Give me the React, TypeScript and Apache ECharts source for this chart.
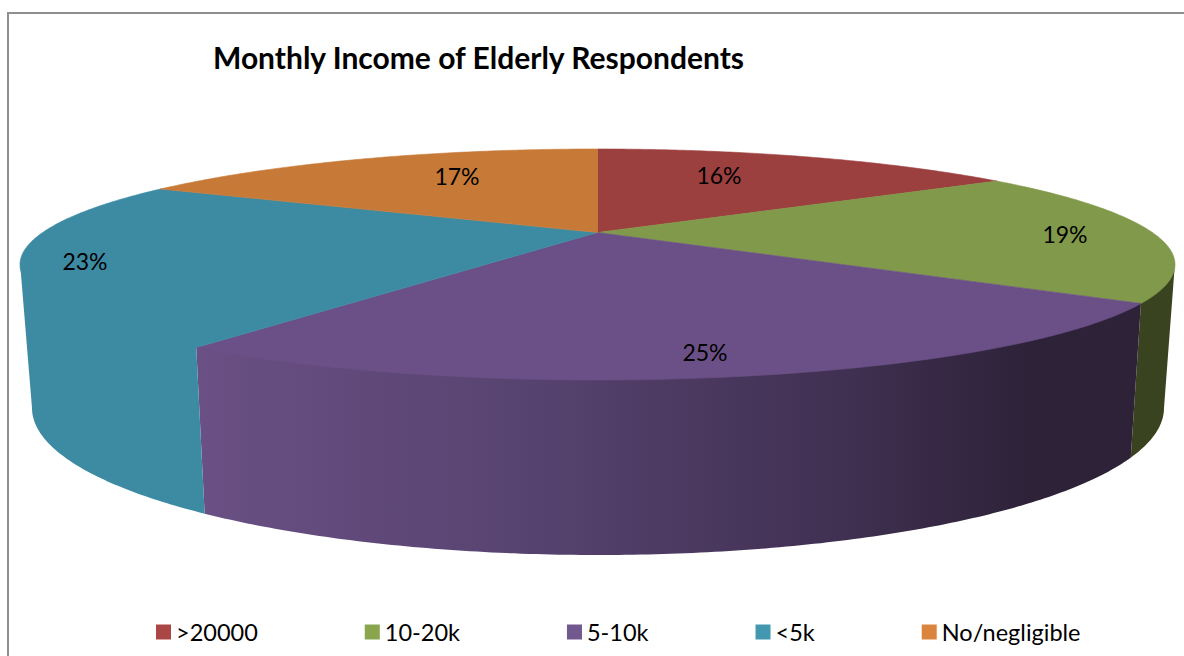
import React, { useEffect, useRef } from "react";
import * as echarts from "echarts";

const titleText = "Monthly Income of Elderly Respondents";
const categories = [">20000", "10-20k", "5-10k", "<5k", "No/negligible"];
const shares = [15.6, 18.9, 24.9, 23.2, 17.4];

const legendColors = ["#AA4644", "#89A54E", "#71588F", "#4298AF", "#DB843D"];
const topColors = ["#9C3F3F", "#81994A", "#6B5087", "#3D8BA3", "#C77A38"];
const sideStops: [number, string][][] = [
  [[0, "#6b2a2a"], [1, "#6b2a2a"]],
  [[0, "#3A431F"], [1, "#3A431F"]],
  [[0, "#6A5084"], [0.35, "#574370"], [0.7, "#3F2F50"], [0.88, "#2E2239"], [1, "#2E2239"]],
  [[0, "#3D8BA3"], [1, "#3D8BA3"]],
  [[0, "#C77A38"], [1, "#C77A38"]],
];
const labelAnchors = [
  [719, 175],
  [1065, 234],
  [705, 352],
  [85, 261],
  [457, 176],
];

// perspective disc: the apex of the pie sits above the centre of the rim ellipse
const TOP = { cx: 597.5, cy: 264.5, rx: 577.5, ry: 115.5 };
const BOTTOM = { cx: 598, cy: 408, rx: 566, ry: 147 };
const K = 0.277;

function disc(theta: number) {
  const u = Math.sin(theta);
  const v = Math.cos(theta);
  const d = 1 + K * v;
  return { X: (u * Math.sqrt(1 - K * K)) / d, Y: (v + K) / d };
}
function rim(theta: number, e: typeof TOP): number[] {
  const p = disc(theta);
  return [e.cx + e.rx * p.X, e.cy - e.ry * p.Y];
}
function arcAngles(a: number, b: number): number[] {
  const n = Math.max(2, Math.ceil((b - a) / 0.01));
  const out: number[] = [];
  for (let i = 0; i <= n; i++) out.push(a + ((b - a) * i) / n);
  return out;
}

const total = shares.reduce((s, v) => s + v, 0);
const silhouetteR = Math.acos(-K);
const silhouetteL = 2 * Math.PI - silhouetteR;

function sliceRender(index: number) {
  return (_params: unknown, api: any) => {
    const before = shares.slice(0, index).reduce((s, v) => s + v, 0);
    const a0 = (before / total) * 2 * Math.PI;
    const a1 = a0 + ((api.value(0) as number) / total) * 2 * Math.PI;
    const children: any[] = [];

    const s0 = Math.max(a0, silhouetteR);
    const s1 = Math.min(a1, silhouetteL);
    if (s1 > s0) {
      const angles = arcAngles(s0, s1);
      const pts = [
        // the upper edge runs a little under the top face, so no seam shows along the rim
        ...angles.map((t) => {
          const [x, y] = rim(t, TOP);
          return [x, y - 2];
        }),
        ...angles.slice().reverse().map((t) => rim(t, BOTTOM)),
      ];
      children.push({
        type: "polygon",
        z2: 0,
        shape: { points: pts },
        style: {
          fill: {
            type: "linear",
            x: 0,
            y: 0,
            x2: 1,
            y2: 0,
            colorStops: sideStops[index].map(([offset, color]) => ({ offset, color })),
          },
        },
      });
    }

    const apex = [TOP.cx, TOP.cy - TOP.ry * K];
    children.push({
      type: "polygon",
      z2: 1,
      shape: { points: [apex, ...arcAngles(a0, a1).map((t) => rim(t, TOP))] },
      style: { fill: topColors[index], stroke: topColors[index], lineWidth: 0.6 },
    });

    const [lx, ly] = labelAnchors[index];
    children.push({
      type: "text",
      x: lx,
      y: ly,
      z2: 10,
      style: {
        text: `${(api.value(0) as number).toFixed(0)}%`,
        fill: "#000",
        font: "23px Lato",
        align: "center",
        verticalAlign: "middle",
      },
    });
    return { type: "group", children };
  };
}

export default function App() {
  const ref = useRef<HTMLDivElement>(null);
  useEffect(() => {
    document.body.style.margin = "0";
    const chart = echarts.init(ref.current!, undefined, { renderer: "svg" });
    chart.setOption({
      animation: false,
      backgroundColor: "#fff",
      title: {
        text: titleText,
        left: 208,
        top: 37,
        textStyle: { fontFamily: "Lato", fontWeight: "bold", fontSize: 30, color: "#000" },
      },
      legend: {
        left: 151,
        top: 615,
        icon: "rect",
        itemWidth: 15,
        itemHeight: 15,
        itemGap: 107,
        selectedMode: false,
        data: categories,
        textStyle: { fontFamily: "Lato", fontSize: 23.5, color: "#000" },
      },
      graphic: [
        {
          type: "rect",
          silent: true,
          z: -1,
          shape: { x: 8, y: 13, width: 1400, height: 900 },
          style: { fill: "none", stroke: "#8f8f8f", lineWidth: 2 },
        },
      ],
      series: categories.map((name, i) => ({
        type: "custom",
        name,
        coordinateSystem: "none",
        itemStyle: { color: legendColors[i] },
        renderItem: sliceRender(i),
        data: [[shares[i]]],
        silent: true,
      })),
    });
    return () => chart.dispose();
  }, []);
  return <div ref={ref} style={{ width: 1184, height: 656 }} />;
}
